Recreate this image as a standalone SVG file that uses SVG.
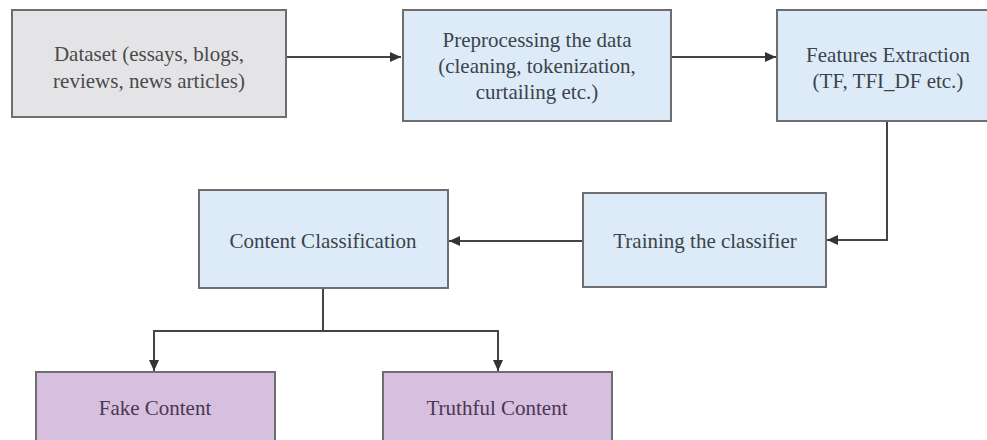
<svg xmlns="http://www.w3.org/2000/svg" width="987" height="440" viewBox="0 0 987 440">
<style>
.box{stroke:#6e6e70;stroke-width:2}
.gray{fill:#e4e4e6}
.blue{fill:#dcebf7}
.purple{fill:#d6bfdf}
text{font-family:'Liberation Serif','DejaVu Serif',serif;font-size:21px;text-anchor:middle;fill:#3c434b}
.pt{fill:#4a3752}
.gt{fill:#4a4a4c}
.conn{fill:none;stroke:#444;stroke-width:2}
</style>
<defs>
<marker id="ah" markerUnits="userSpaceOnUse" markerWidth="12" markerHeight="12" viewBox="0 0 12 12" refX="11" refY="6" orient="auto">
<path d="M0,1 L11,6 L0,11 Z" fill="#333"/>
</marker>
</defs>
<rect width="987" height="440" fill="#ffffff"/>
<g id="connectors">
<path class="conn" d="M286,57 H401" marker-end="url(#ah)"/>
<path class="conn" d="M671,57 H776" marker-end="url(#ah)"/>
<path class="conn" d="M887,121 V240 H827" marker-end="url(#ah)"/>
<path class="conn" d="M583,241 H449" marker-end="url(#ah)"/>
<path class="conn" d="M323,288 V331 H154 V371" marker-end="url(#ah)"/>
<path class="conn" d="M323,331 H498 V371" marker-end="url(#ah)"/>
</g>
<g id="dataset">
<rect class="box gray" x="12" y="10" width="274" height="107"/>
<text class="gt" x="149" y="61">Dataset (essays, blogs,</text>
<text class="gt" x="149" y="88">reviews, news articles)</text>
</g>
<g id="preprocessing">
<rect class="box blue" x="403" y="10" width="268" height="111"/>
<text x="537" y="47">Preprocessing the data</text>
<text x="537" y="73">(cleaning, tokenization,</text>
<text x="537" y="99">curtailing etc.)</text>
</g>
<g id="features">
<rect class="box blue" x="777" y="10" width="222" height="111"/>
<text x="888" y="62">Features Extraction</text>
<text x="888" y="88">(TF, TFI_DF etc.)</text>
</g>
<g id="training">
<rect class="box blue" x="583" y="193" width="243" height="94"/>
<text x="705" y="248">Training the classifier</text>
</g>
<g id="classification">
<rect class="box blue" x="199" y="190" width="249" height="98"/>
<text x="323" y="248">Content Classification</text>
</g>
<g id="fake">
<rect class="box purple" x="36" y="372" width="239" height="80"/>
<text class="pt" x="155" y="415">Fake Content</text>
</g>
<g id="truthful">
<rect class="box purple" x="383" y="372" width="229" height="80"/>
<text class="pt" x="497" y="415">Truthful Content</text>
</g>
</svg>
